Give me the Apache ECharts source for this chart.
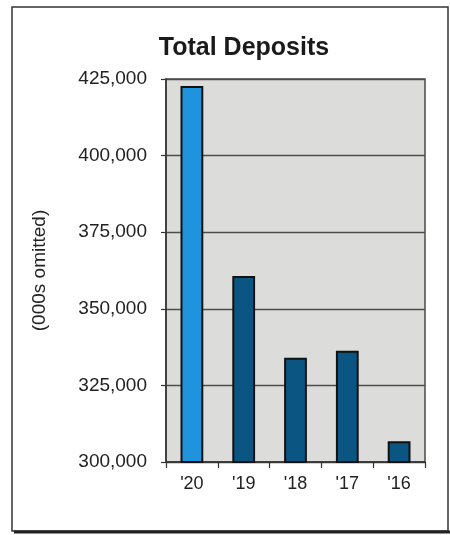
<!DOCTYPE html>
<html>
<head>
<meta charset="utf-8">
<style>
  html, body { margin: 0; padding: 0; background: #fff; }
  #chart { width: 450px; height: 535px; }
</style>
<script src="https://cdn.jsdelivr.net/npm/echarts@6/dist/echarts.min.js"></script>
</head>
<body>
<div id="chart"></div>
<script>
// Total deposits by year, thousands of dollars
const years = ["'20", "'19", "'18", "'17", "'16"];
const deposits = [422700, 360700, 334000, 336300, 306800];
const barColors = ['#1f93dc', '#0b5582', '#0b5582', '#0b5582', '#0b5582'];
const yTicks = { min: 300000, max: 425000, step: 25000 };

const chart = echarts.init(document.getElementById('chart'), null, { renderer: 'canvas' });
const font = '"Liberation Sans", Arial, sans-serif';

chart.setOption({
  backgroundColor: '#ffffff',
  animation: false,
  title: {
    text: 'Total Deposits',
    left: 239, top: 31, textAlign: 'center',
    textStyle: { fontFamily: font, fontSize: 25, fontWeight: 'bold', color: '#1a1a1a' }
  },
  graphic: [
    {
      type: 'rect', silent: true, z: -1,
      shape: { x: 12, y: 7, width: 436, height: 524 },
      style: { fill: 'none', stroke: '#333', lineWidth: 1.5 }
    },
    {
      type: 'line', silent: true,
      shape: { x1: 14, y1: 532, x2: 450, y2: 532 },
      style: { stroke: '#222', lineWidth: 3 }
    }
  ],
  grid: {
    left: 166, right: 25, top: 79, bottom: 73,
    show: true, backgroundColor: '#dcdcda', borderColor: '#4a4a4a', borderWidth: 1.5
  },
  xAxis: {
    type: 'category',
    data: years,
    axisLine: { lineStyle: { color: '#333', width: 1.5 } },
    axisTick: { show: true, length: 6, lineStyle: { color: '#333', width: 1.2 } },
    axisLabel: { fontFamily: font, fontSize: 18, color: '#222', margin: 13 }
  },
  yAxis: {
    type: 'value',
    min: yTicks.min, max: yTicks.max, interval: yTicks.step,
    name: '(000s omitted)',
    nameLocation: 'middle',
    nameGap: 117,
    nameRotate: 90,
    nameTextStyle: { fontFamily: font, fontSize: 19, color: '#222' },
    axisLine: { show: true, lineStyle: { color: '#333', width: 1.5 } },
    axisTick: { show: true, length: 5, lineStyle: { color: '#333', width: 1.2 } },
    axisLabel: {
      fontFamily: font, fontSize: 19, color: '#222', margin: 19,
      formatter: v => v.toLocaleString('en-US')
    },
    splitLine: { lineStyle: { color: '#4d4d4d', width: 1.3 } }
  },
  series: [{
    type: 'bar',
    barWidth: '44%',
    data: deposits.map((v, i) => ({
      value: v,
      itemStyle: { color: barColors[i], borderColor: '#111', borderWidth: 2 }
    }))
  }]
});
</script>
</body>
</html>
